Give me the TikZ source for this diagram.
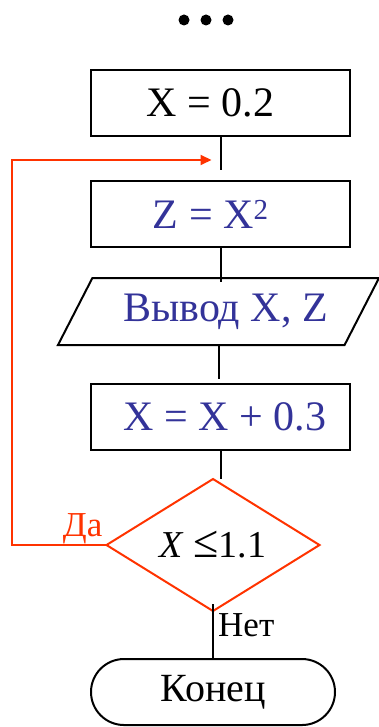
\documentclass[tikz,border=0pt]{standalone}
\usepackage{fontspec}
\setmainfont{Liberation Serif}
\usepackage{tikz}
\usetikzlibrary{arrows.meta, positioning, calc, shapes.geometric}
\definecolor{stepblue}{RGB}{51,51,153}
\definecolor{loopred}{RGB}{255,51,0}

\begin{document}
\begin{tikzpicture}[
        x=1pt, y=-1pt,
        block/.style={rectangle, draw, line width=2pt, outer sep=0pt, inner sep=0pt, minimum width=259pt, minimum height=66pt, font=\fontsize{42}{48}\selectfont},
        iobox/.style={trapezium, trapezium left angle=46, trapezium right angle=134, trapezium stretches body, draw, line width=2pt, outer sep=0pt, inner sep=0pt, minimum width=321pt, minimum height=67pt, font=\fontsize{42}{48}\selectfont},
        cond/.style={diamond, aspect=1.6, draw=loopred, line width=2pt, outer sep=0pt, inner sep=0pt, minimum width=213pt, minimum height=132pt, font=\fontsize{38}{44}\selectfont},
        term/.style={rectangle, rounded corners=33pt, draw, line width=2pt, outer sep=0pt, inner sep=0pt, minimum width=244pt, minimum height=66pt, font=\fontsize{40}{46}\selectfont},
        dot/.style={circle, fill, inner sep=0pt, minimum size=11pt},
        lbl/.style={inner sep=0pt, font=\fontsize{35}{40}\selectfont},
        link/.style={line width=2pt},
        back/.style={line width=2pt, loopred, -{Triangle[length=11pt, width=10pt]}},
    ]
    \useasboundingbox (0,0) rectangle (379,727);

    % ...
    \foreach \i/\x in {1/184, 2/206, 3/228}
        \node[dot] (dot\i) at (\x,20) {};

    % Blocks
    \node[block] (init) at (220.5,103) {\hspace*{-20pt}X = 0.2};
    \node[block, text=stepblue, below=45pt of init] (square) {\hspace*{-20pt}Z = X\raisebox{9pt}{\fontsize{29}{30}\selectfont 2}};
    \node[iobox, text=stepblue, below=31pt of square, xshift=-2pt] (out) {\hspace*{14pt}Вывод X, Z};
    \node[block, text=stepblue, below=39pt of out, xshift=2pt] (incr) {\hspace*{9pt}X = X + 0.3};
    \node[cond, below=29pt of incr, xshift=-7.5pt] (test) {\textit{X} {\fontsize{46}{48}\selectfont ≤}1.1};
    \node[term, below=48pt of test] (stop) {Конец};

    % Labels
    \node[lbl, text=loopred, anchor=base east] (yes) at ($(test.west)+(-4,-9)$) {Да};
    \node[lbl, anchor=base west] (no) at ($(test.south)+(5,25)$) {Нет};

    % Connectors
    \coordinate (loop) at ($(init.south)+(-9,24)$);
    \draw[link, shorten >=11pt] (init.south) -- (init.south |- square.north);
    \draw[link] (square.south) -- ($(square.south |- out.north)+(0,4)$);
    \draw[link, shorten >=5pt] (out.south) -- (out.south |- incr.north);
    \draw[link] (incr.south) -- (incr.south |- test.north);
    \draw[link] ($(test.south)+(0,-7)$) -- (stop.north);

    % Loop back
    \draw[back] (test.west) -- ++(-95,0) |- (loop);
\end{tikzpicture}
\end{document}
